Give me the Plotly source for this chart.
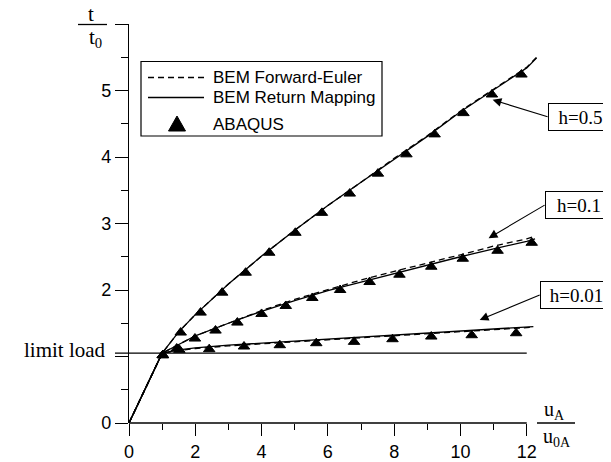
import plotly.graph_objects as go

# ---------------- data ----------------
limit_load = 1.05

u_h05 = [0, 1, 1.5, 2, 3, 4, 5, 6, 7, 8, 9, 10, 11, 12, 12.3]
t_h05_rm = [0, 1.05, 1.37, 1.63, 2.09, 2.51, 2.90, 3.27, 3.62, 3.97, 4.31, 4.68, 5.01, 5.34, 5.49]
t_h05_fe = [0, 1.05, 1.37, 1.63, 2.09, 2.51, 2.90, 3.27, 3.62, 3.98, 4.32, 4.69, 5.02, 5.35, 5.50]

u_h01 = [0, 1, 1.5, 2, 3, 4, 5, 6, 7, 8, 9, 10, 11, 12, 12.25]
t_h01_rm = [0, 1.05, 1.18, 1.31, 1.50, 1.68, 1.84, 1.99, 2.12, 2.25, 2.37, 2.50, 2.62, 2.73, 2.77]
t_h01_fe = [0, 1.05, 1.18, 1.31, 1.50, 1.69, 1.86, 2.01, 2.15, 2.28, 2.40, 2.53, 2.66, 2.77, 2.81]

u_h001 = [0, 1, 1.5, 2, 3, 4, 5, 6, 7, 8, 9, 10, 11, 12, 12.2]
t_h001_rm = [0, 1.05, 1.10, 1.13, 1.17, 1.20, 1.23, 1.26, 1.29, 1.32, 1.35, 1.38, 1.41, 1.44, 1.45]
t_h001_fe = [0, 1.05, 1.09, 1.12, 1.16, 1.19, 1.22, 1.25, 1.28, 1.31, 1.34, 1.37, 1.40, 1.43, 1.44]

ab_u_h05 = [1.02, 1.56, 2.16, 2.81, 3.52, 4.23, 5.02, 5.82, 6.66, 7.51, 8.37, 9.22, 10.09, 10.95, 11.84]
ab_t_h05 = [1.02, 1.36, 1.66, 1.96, 2.26, 2.56, 2.86, 3.16, 3.45, 3.75, 4.04, 4.34, 4.66, 4.94, 5.24]
ab_u_h01 = [1.02, 1.44, 1.99, 2.61, 3.27, 4.00, 4.73, 5.53, 6.37, 7.26, 8.16, 9.12, 10.07, 11.12, 12.15]
ab_t_h01 = [1.02, 1.12, 1.27, 1.39, 1.51, 1.64, 1.76, 1.88, 2.00, 2.12, 2.23, 2.35, 2.47, 2.59, 2.71]
ab_u_h001 = [1.02, 1.52, 2.42, 3.47, 4.55, 5.65, 6.79, 7.95, 9.12, 10.34, 11.68]
ab_t_h001 = [1.02, 1.10, 1.11, 1.15, 1.17, 1.20, 1.22, 1.26, 1.30, 1.32, 1.35]

x_ticks = [0, 2, 4, 6, 8, 10, 12]
x_minor = [1, 3, 5, 7, 9, 11]
y_ticks = [0, 1, 2, 3, 4, 5, 6]
y_ticktext = ["0", "", "2", "3", "4", "5", ""]
y_minor = [0.5, 1.5, 2.5, 3.5, 4.5, 5.5]

legend_names = ["BEM Forward-Euler", "BEM Return Mapping", "ABAQUS"]

# h label annotations: (text, tip u, tip t, ax, ay, box width)
h_labels = [("h=0.5", 10.97, 4.86, 55, 17, 61),
            ("h=0.1", 10.85, 2.78, 56, -33, 64),
            ("h=0.01", 10.58, 1.55, 60, -25, 69)]

# ---------------- layout geometry ----------------
OFF = 8                      # page body margin of the browser
W, H = 611 - OFF, 462 - OFF
ML, MR, MT, MB = 121, 71, 16, 39
PW, PH = W - ML - MR, H - MT - MB
X_MAX, Y_MAX = 12.4, 6


def px(xpage):
    return (xpage - OFF - ML) / PW


def py(ypage):
    return (H - MB - (ypage - OFF)) / PH


SANS = "Liberation Sans, Arial, sans-serif"
SERIF = "Liberation Serif, Times New Roman, serif"
LW = 1.3
DASH = "6px,4px"

fig = go.Figure()

for i, (uu, tt) in enumerate([(ab_u_h05, ab_t_h05), (ab_u_h01, ab_t_h01), (ab_u_h001, ab_t_h001)]):
    fig.add_trace(go.Scatter(x=uu, y=tt, mode="markers", name=legend_names[2], showlegend=False,
                             cliponaxis=False,
                             marker=dict(symbol="triangle-up", size=10, color="black",
                                         line=dict(color="black", width=1))))

for uu, tt in [(u_h05, t_h05_fe), (u_h01, t_h01_fe), (u_h001, t_h001_fe)]:
    fig.add_trace(go.Scatter(x=uu, y=tt, mode="lines", name=legend_names[0], showlegend=False,
                             line=dict(color="black", width=LW, dash=DASH)))
for uu, tt in [(u_h05, t_h05_rm), (u_h01, t_h01_rm), (u_h001, t_h001_rm)]:
    fig.add_trace(go.Scatter(x=uu, y=tt, mode="lines", name=legend_names[1], showlegend=False,
                             line=dict(color="black", width=LW)))

shapes = [
    # x axis line (0..12)
    dict(type="line", xref="x", yref="paper", x0=0, x1=12, y0=0, y1=0,
         line=dict(color="black", width=LW)),
    # limit load line
    dict(type="line", xref="paper", yref="y", x0=px(115), x1=12 / X_MAX,
         y0=limit_load, y1=limit_load, line=dict(color="black", width=LW)),
    # fraction bars
    dict(type="line", xref="paper", yref="paper", x0=px(78), x1=px(107), y0=py(24.5), y1=py(24.5),
         line=dict(color="black", width=LW)),
    dict(type="line", xref="paper", yref="paper", x0=px(537), x1=px(575), y0=py(423), y1=py(423),
         line=dict(color="black", width=LW)),
    # legend box
    dict(type="rect", xref="paper", yref="paper", x0=px(141), x1=px(382), y0=py(61.5), y1=py(136),
         line=dict(color="black", width=1.2), fillcolor="white", layer="above"),
    dict(type="line", xref="paper", yref="paper", x0=px(148), x1=px(204), y0=py(77.5), y1=py(77.5),
         line=dict(color="black", width=LW, dash=DASH), layer="above"),
    dict(type="line", xref="paper", yref="paper", x0=px(148), x1=px(204), y0=py(97.5), y1=py(97.5),
         line=dict(color="black", width=LW), layer="above"),
    dict(type="path", xref="paper", yref="paper", layer="above",
         path="M {a},{b} L {c},{b} L {d},{e} Z".format(a=px(168.5), b=py(131), c=px(185.5),
                                                      d=px(177), e=py(116)),
         fillcolor="black", line=dict(color="black", width=1)),
]

annotations = [
    dict(text="limit load", xref="paper", yref="y", x=px(108), y=limit_load, yshift=3,
         xanchor="right", yanchor="middle", showarrow=False,
         font=dict(family=SERIF, size=21, color="black")),
    dict(text="t", xref="paper", yref="paper", x=px(91), y=py(14), xanchor="center",
         yanchor="middle", showarrow=False, font=dict(family=SERIF, size=21, color="black")),
    dict(text="t<sub>0</sub>", xref="paper", yref="paper", x=px(95), y=py(38), xanchor="center",
         yanchor="middle", showarrow=False, font=dict(family=SERIF, size=21, color="black")),
    dict(text="u<sub>A</sub>", xref="paper", yref="paper", x=px(554), y=py(410), xanchor="center",
         yanchor="middle", showarrow=False, font=dict(family=SERIF, size=20, color="black")),
    dict(text="u<sub>0A</sub>", xref="paper", yref="paper", x=px(557), y=py(437), xanchor="center",
         yanchor="middle", showarrow=False, font=dict(family=SERIF, size=20, color="black")),
]
for name, yc in zip(legend_names, [77, 97, 124]):
    annotations.append(dict(text=name, xref="paper", yref="paper", x=px(211), y=py(yc),
                            xanchor="left", yanchor="middle", showarrow=False,
                            font=dict(family=SANS, size=17, color="black")))
for txt, hx, hy, ax, ay, wd in h_labels:
    annotations.append(dict(text=txt, x=hx, y=hy, xref="x", yref="y", ax=ax, ay=ay,
                            xanchor="left", yanchor="middle", showarrow=True,
                            arrowhead=2, arrowsize=1.6, arrowwidth=1.1, arrowcolor="black",
                            standoff=0, bordercolor="black", borderwidth=1, borderpad=1,
                            bgcolor="white", width=wd, height=24,
                            font=dict(family=SERIF, size=19, color="black")))

fig.update_layout(
    template="none",
    width=W, height=H, autosize=False,
    margin=dict(l=ML, r=MR, t=MT, b=MB, pad=0),
    paper_bgcolor="white", plot_bgcolor="white",
    font=dict(family=SANS, size=18, color="black"),
    showlegend=False,
    shapes=shapes, annotations=annotations,
    xaxis=dict(range=[0, X_MAX], showgrid=False, zeroline=False, showline=False,
               automargin=False,
               tickmode="array", tickvals=x_ticks, ticks="outside", ticklen=12,
               tickwidth=LW, tickcolor="black",
               minor=dict(tickmode="array", tickvals=x_minor, ticks="outside", ticklen=6,
                          tickwidth=LW, tickcolor="black", showgrid=False),
               tickfont=dict(family=SANS, size=18, color="black")),
    yaxis=dict(range=[0, Y_MAX], showgrid=False, zeroline=False, showline=True,
               automargin=False,
               linecolor="black", linewidth=LW,
               tickmode="array", tickvals=y_ticks, ticktext=y_ticktext,
               ticks="outside", ticklen=13, tickwidth=LW, tickcolor="black",
               minor=dict(tickmode="array", tickvals=y_minor,
                          ticks="outside", ticklen=7, tickwidth=LW, tickcolor="black",
                          showgrid=False),
               tickfont=dict(family=SANS, size=18, color="black")),
)

fig.write_html("out.html")
